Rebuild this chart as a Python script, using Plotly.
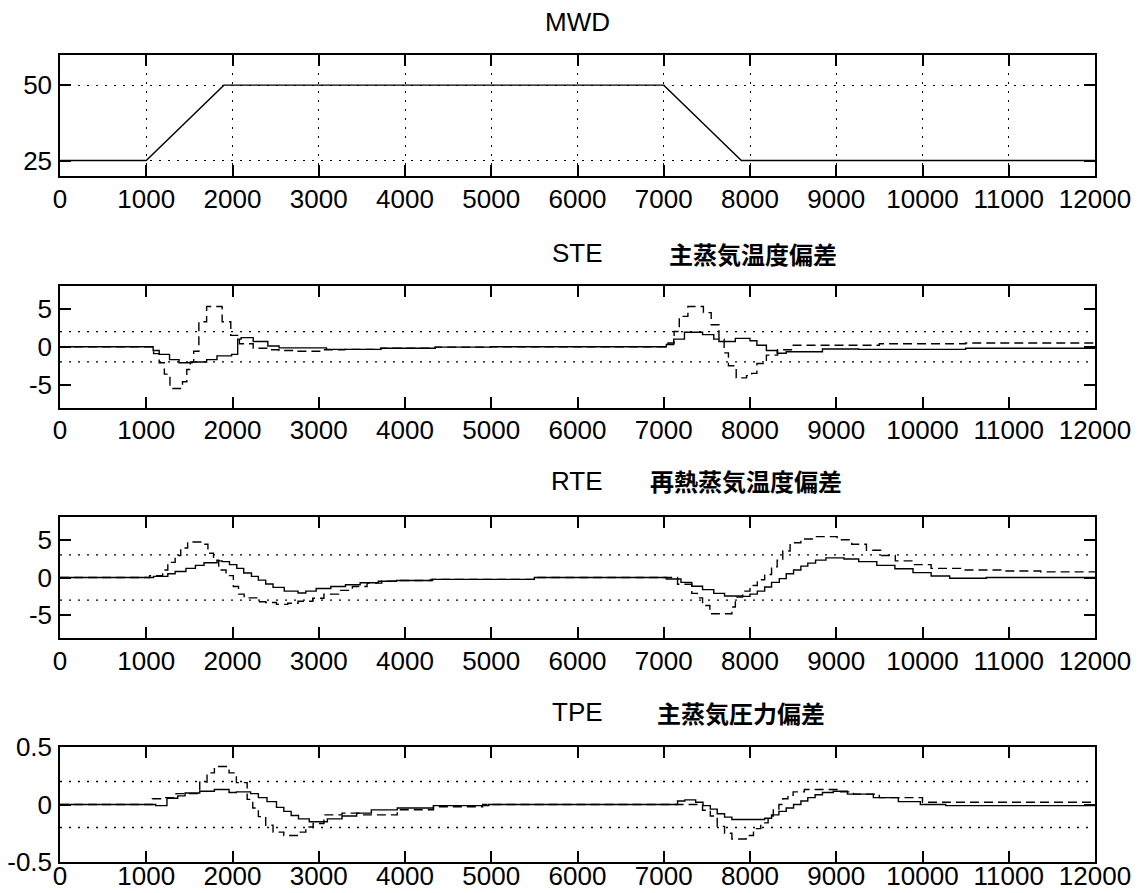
import plotly.graph_objects as go

# ---------------- data ----------------
X_TICKS = list(range(0, 12001, 1000))

MWD_X = [0, 1000, 1900, 7000, 7900, 12000]
MWD_Y = [25, 25, 50, 50, 25, 25]

STE_SOLID_X = [0, 1080, 1150, 1270, 1380, 1530, 1700, 1820, 1990, 2060,
               2100, 2240, 2410, 2540, 3090, 3720, 4350, 5000, 7030, 7115,
               7240, 7450, 7580, 7640, 7830, 8000, 8080, 8190, 8315, 8420,
               8840, 9260, 10500, 12000]
STE_SOLID_Y = [0, -0.5, -1.0, -1.7, -2.1, -2.0, -1.7, -1.2, -1.0, 1.0,
               1.2, 0.7, 0.1, -0.15, -0.35, -0.2, -0.05, 0, 0.3, 1.0,
               1.9, 1.6, 1.0, 0.7, 1.1, 0.8, 0.2, -0.5, -0.85, -0.65,
               -0.3, -0.35, -0.2, -0.2]
STE_DASH_X = [0, 1085, 1150, 1210, 1275, 1420, 1470, 1510, 1550, 1610,
              1700, 1880, 1980, 2080, 2240, 2420, 2540, 2750, 3050, 3300,
              3720, 4350, 5000, 7050, 7120, 7180, 7280, 7460, 7550, 7640,
              7700, 7750, 7840, 7960, 8020, 8080, 8190, 8320, 8480, 9500,
              10500, 12000]
STE_DASH_Y = [0, -0.9, -2.1, -3.6, -5.5, -4.6, -3.0, -2.0, -0.6, 3.3,
              5.3, 3.3, 1.5, 0.4, -0.2, -0.4, -0.5, -0.6, -0.4, -0.35,
              -0.2, -0.05, 0, 0.5, 2.0, 4.0, 5.3, 4.5, 2.9, 1.0,
              -0.8, -2.5, -4.1, -3.8, -3.5, -2.2, -1.1, -0.4, 0.2, 0.4,
              0.5, 0.6]

RTE_SOLID_X = [0, 1085, 1250, 1335, 1460, 1570, 1670, 1820, 1880, 1965,
               2050, 2130, 2220, 2300, 2385, 2470, 2600, 2760, 2850, 2970,
               3140, 3310, 3480, 3690, 3900, 4320, 5500, 7030, 7200, 7325,
               7450, 7580, 7705, 7915, 8000, 8085, 8170, 8250, 8340, 8420,
               8505, 8590, 8670, 8760, 8880, 9090, 9260, 9470, 9680, 9890,
               10100, 10315, 10740, 12000]
RTE_SOLID_Y = [0, 0.15, 0.5, 0.8, 1.2, 1.6, 1.95, 2.2, 2.1, 1.7,
               1.2, 0.6, 0.15, -0.35, -0.85, -1.3, -1.8, -2.05, -1.8, -1.45,
               -1.2, -0.95, -0.7, -0.5, -0.4, -0.25, 0.0, -0.2, -0.65, -1.15,
               -1.6, -2.1, -2.45, -2.5, -2.2, -1.8, -1.25, -0.65, -0.15, 0.5,
               1.0, 1.5, 1.9, 2.3, 2.6, 2.45, 2.1, 1.6, 1.15, 0.65,
               0.2, -0.1, 0.0, 0.0]
RTE_DASH_X = [0, 1040, 1190, 1250, 1335, 1400, 1480, 1650, 1715, 1780,
              1840, 1925, 2010, 2070, 2135, 2300, 2385, 2510, 2640, 2760,
              2930, 3060, 3230, 3390, 3560, 3730, 3900, 4300, 5500, 7160,
              7325, 7390, 7450, 7535, 7790, 7830, 7915, 8000, 8085, 8170,
              8250, 8315, 8380, 8465, 8590, 8760, 9010, 9180, 9350, 9515,
              9685, 9895, 10100, 10440, 10950, 11370, 12000]
RTE_DASH_Y = [0, 0.25, 1.0, 2.0, 2.9, 3.9, 4.7, 4.4, 3.2, 2.3,
              1.0, 0.25, -1.2, -2.2, -2.7, -3.2, -3.3, -3.55, -3.4, -3.15,
              -2.75, -2.2, -1.7, -1.2, -0.75, -0.5, -0.4, -0.25, 0.0, -0.9,
              -2.1, -2.7, -3.7, -4.8, -3.9, -2.6, -1.8, -1.05, -0.3, 0.4,
              1.4, 2.3, 3.5, 4.6, 5.1, 5.4, 5.0, 4.4, 3.6, 2.9,
              2.2, 1.7, 1.2, 1.0, 0.85, 0.75, 0.75]

TPE_SOLID_X = [0, 1110, 1240, 1365, 1450, 1620, 1790, 1960, 2045, 2210,
               2300, 2400, 2510, 2595, 2680, 2765, 2890, 3100, 3270, 3440,
               3610, 3910, 4330, 4970, 7160, 7245, 7370, 7455, 7540, 7620,
               7705, 7790, 8170, 8250, 8335, 8420, 8505, 8590, 8670, 8755,
               8840, 8965, 9130, 9430, 9720, 9975, 10270, 12000]
TPE_SOLID_Y = [0, -0.01, 0.055, 0.075, 0.1, 0.115, 0.13, 0.105, 0.11, 0.095,
               0.06, 0.025, -0.025, -0.06, -0.095, -0.125, -0.15, -0.125, -0.1, -0.075,
               -0.047, -0.03, -0.01, 0, 0.03, 0.04, 0.02, -0.01, -0.04, -0.08,
               -0.11, -0.13, -0.12, -0.09, -0.06, -0.03, 0.0, 0.03, 0.06, 0.085,
               0.105, 0.115, 0.09, 0.06, 0.025, 0.0, -0.01, -0.01]
TPE_DASH_X = [0, 1070, 1195, 1345, 1620, 1705, 1790, 1960, 2045, 2170,
              2235, 2300, 2385, 2470, 2595, 2765, 2850, 2935, 3060, 3270,
              3485, 3910, 4330, 4900, 7450, 7540, 7620, 7705, 7790, 7955,
              8040, 8125, 8210, 8270, 8335, 8380, 8440, 8500, 8630, 9050,
              9200, 9500, 10000, 12000]
TPE_DASH_Y = [0, 0.05, 0.06, 0.095, 0.195, 0.275, 0.33, 0.275, 0.19, 0.045,
              -0.03, -0.105, -0.18, -0.24, -0.27, -0.24, -0.195, -0.165, -0.09, -0.075,
              -0.09, -0.045, -0.02, 0, -0.05, -0.1, -0.19, -0.25, -0.3, -0.27,
              -0.21, -0.16, -0.1, -0.04, 0.0, 0.05, 0.08, 0.11, 0.13, 0.11,
              0.09, 0.06, 0.02, 0.02]

# tolerance (dotted reference) levels of each deviation panel
STE_LIMITS = [2, -2]
RTE_LIMITS = [3, -3]
TPE_LIMITS = [0.2, -0.2]

MWD_YTICKS = [25, 50]
DEV_YTICKS = [-5, 0, 5]
TPE_YTICKS = [-0.5, 0, 0.5]
TPE_YTICKTEXT = ["-0.5", "0", "0.5"]

TITLES = ["MWD", "STE", "RTE", "TPE"]
SUBTITLES = ["", "主蒸気温度偏差", "再熱蒸気温度偏差", "主蒸気圧力偏差"]

for a, b in [(STE_SOLID_X, STE_SOLID_Y), (STE_DASH_X, STE_DASH_Y),
             (RTE_SOLID_X, RTE_SOLID_Y), (RTE_DASH_X, RTE_DASH_Y),
             (TPE_SOLID_X, TPE_SOLID_Y), (TPE_DASH_X, TPE_DASH_Y)]:
    assert len(a) == len(b)

# ---------------- figure ----------------
OFF = 8                      # page body margin of the html page
W, H = 1141 - OFF, 893 - OFF
LATIN = "Liberation Sans, Arial, Helvetica, sans-serif"
CJK = "Noto Sans CJK JP, Noto Sans CJK SC, sans-serif"

# target screen positions (pixels of the window)
x_left, x_right = 60, 1095
panels_px = [(55, 175.6), (286, 407.5), (517, 638), (747, 862)]  # (top, bottom)


def px_x(s):
    return (s - OFF) / W


def px_y(s):
    return (H - (s - OFF)) / H


fig = go.Figure()

DASH = "9px,5px"
DOT = "2px,7px"
LW = 1.4


def ax(i):
    return ("x" if i == 1 else f"x{i}"), ("y" if i == 1 else f"y{i}")


# panel 1: MWD
xa, ya = ax(1)
fig.add_trace(go.Scatter(x=MWD_X, y=MWD_Y, mode="lines", xaxis=xa, yaxis=ya,
                         line=dict(color="black", width=LW), showlegend=False))

series = [
    (2, STE_SOLID_X, STE_SOLID_Y, STE_DASH_X, STE_DASH_Y, STE_LIMITS),
    (3, RTE_SOLID_X, RTE_SOLID_Y, RTE_DASH_X, RTE_DASH_Y, RTE_LIMITS),
    (4, TPE_SOLID_X, TPE_SOLID_Y, TPE_DASH_X, TPE_DASH_Y, TPE_LIMITS),
]
for i, sx, sy, dx, dy, lims in series:
    xa, ya = ax(i)
    for lv in lims:
        fig.add_trace(go.Scatter(x=[X_TICKS[0], X_TICKS[-1]], y=[lv, lv], mode="lines",
                                 xaxis=xa, yaxis=ya, showlegend=False,
                                 line=dict(color="black", width=1.3, dash=DOT)))
    fig.add_trace(go.Scatter(x=dx, y=dy, mode="lines", xaxis=xa, yaxis=ya,
                             line=dict(color="black", width=LW, dash=DASH, shape="hv"),
                             showlegend=False))
    fig.add_trace(go.Scatter(x=sx, y=sy, mode="lines", xaxis=xa, yaxis=ya,
                             line=dict(color="black", width=LW, shape="hv"),
                             showlegend=False))

layout = dict(
    width=W, height=H, autosize=False,
    margin=dict(l=0, r=0, t=0, b=0, pad=0, autoexpand=False),
    paper_bgcolor="white", plot_bgcolor="white",
    showlegend=False,
    font=dict(family=LATIN, size=26, color="black"),
)

yranges = [[20, 60], [-8, 8], [-8, 8], [-0.5, 0.5]]
yticks = [MWD_YTICKS, DEV_YTICKS, DEV_YTICKS, TPE_YTICKS]
ytext = [[str(v) for v in MWD_YTICKS], [str(v) for v in DEV_YTICKS],
         [str(v) for v in DEV_YTICKS], TPE_YTICKTEXT]

for i, (top, bot) in enumerate(panels_px, start=1):
    xkey = "xaxis" if i == 1 else f"xaxis{i}"
    ykey = "yaxis" if i == 1 else f"yaxis{i}"
    yname = "y" if i == 1 else f"y{i}"
    xname = "x" if i == 1 else f"x{i}"
    common = dict(showline=True, linecolor="black", linewidth=1.5, mirror="ticks",
                  ticks="inside", ticklen=11, tickwidth=1.5, tickcolor="black",
                  zeroline=False, fixedrange=True, automargin=False,
                  tickfont=dict(family=LATIN, size=26, color="black"))
    layout[xkey] = dict(common, domain=[px_x(x_left), px_x(x_right)], range=[0, 12000],
                        tickmode="array", tickvals=X_TICKS,
                        ticktext=[str(v) for v in X_TICKS],
                        anchor=yname, showgrid=(i == 1), gridcolor="black",
                        gridwidth=1.3, griddash=DOT,
                        ticklabelstandoff=(-1 if i < 4 else -10))
    layout[ykey] = dict(common, domain=[px_y(bot), px_y(top)], range=yranges[i - 1],
                        tickmode="array", tickvals=yticks[i - 1], ticktext=ytext[i - 1],
                        anchor=xname, showgrid=(i == 1), gridcolor="black",
                        gridwidth=1.3, griddash=DOT, ticklabelstandoff=1)

fig.update_layout(**layout)

# titles
title_y_px = [22, 253, 481, 712]
sub_x_px = [None, 667, 648, 655]
for i in range(4):
    fig.add_annotation(x=px_x(577), y=px_y(title_y_px[i]), xref="paper", yref="paper",
                       text=TITLES[i], showarrow=False, xanchor="center", yanchor="middle",
                       font=dict(family=LATIN, size=26, color="black"))
    if SUBTITLES[i]:
        fig.add_annotation(x=px_x(sub_x_px[i]), y=px_y(title_y_px[i]), xref="paper", yref="paper",
                           text="<b>" + SUBTITLES[i] + "</b>", showarrow=False,
                           xanchor="left", yanchor="middle",
                           font=dict(family=CJK, size=24, color="black"))

fig.write_html("out.html")
